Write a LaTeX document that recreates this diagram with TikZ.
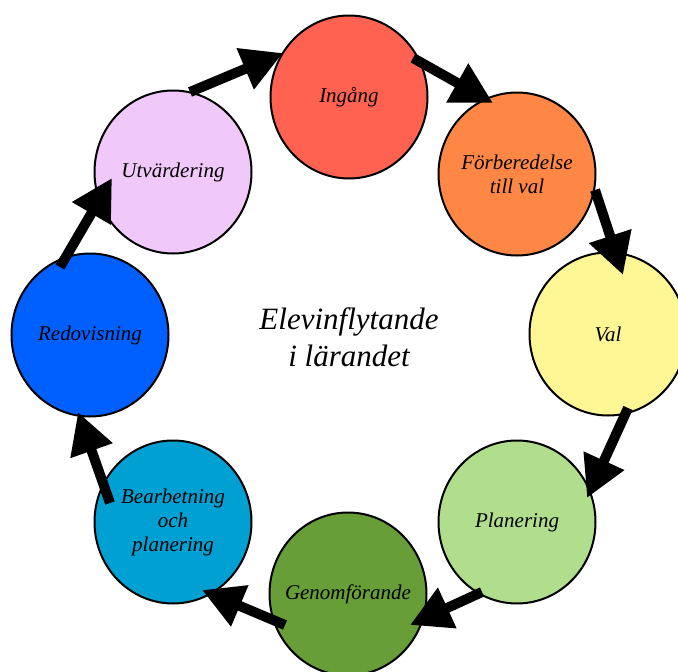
\documentclass[tikz,border=0pt]{standalone}
\usepackage{fontspec}
\setmainfont{Liberation Serif}
\usetikzlibrary{shapes.geometric,arrows.meta,calc}
\definecolor{cIng}{RGB}{255,98,80}
\definecolor{cForb}{RGB}{255,135,70}
\definecolor{cVal}{RGB}{255,247,150}
\definecolor{cPlan}{RGB}{176,222,140}
\definecolor{cGen}{RGB}{103,158,55}
\definecolor{cBear}{RGB}{0,160,210}
\definecolor{cRed}{RGB}{0,95,255}
\definecolor{cUtv}{RGB}{240,200,250}
\begin{document}
\begin{tikzpicture}[x=1pt,y=-1pt,
  stage/.style={ellipse, draw=black, line width=2pt, minimum width=157pt, minimum height=163pt,
    inner xsep=-30pt, inner ysep=0pt, align=center, font=\fontsize{21}{24}\selectfont\itshape},
  flow/.style={line width=10pt, -{Triangle[length=41pt,width=42pt]}},
  title/.style={align=center, font=\fontsize{31}{37}\selectfont\itshape}]
\useasboundingbox (0,0) rectangle (678,672);
\clip (0,0) rectangle (678,672);
\node[stage, fill=cIng]  (ing)  at (349,97)  {Ingång};
\node[stage, fill=cForb] (forb) at (517,174) {Förberedelse\\till val};
\node[stage, fill=cVal]  (val)  at (608,334) {Val};
\node[stage, fill=cPlan] (plan) at (517,522) {Planering};
\node[stage, fill=cGen]  (gen)  at (348,594) {Genomförande};
\node[stage, fill=cBear] (bear) at (173,522) {Bearbetning\\och\\planering};
\node[stage, fill=cRed]  (red)  at (90,335)  {Redovisning};
\node[stage, fill=cUtv]  (utv)  at (173,172) {Utvärdering};
\node[title] (center) at (349,337) {Elevinflytande\\i lärandet};
\draw[flow] ($(utv)+(17,-80)$)  -- ($(ing)+(-66,-44)$);
\draw[flow] ($(ing)+(64,-39)$)  -- ($(forb)+(-24,-71)$);
\draw[flow] ($(forb)+(78,16)$)  -- ($(val)+(15,-59)$);
\draw[flow] ($(val)+(20,74)$)   -- ($(plan)+(70,-24)$);
\draw[flow] ($(plan)+(-35,70)$) -- ($(gen)+(62,31)$);
\draw[flow] ($(gen)+(-63,31)$)  -- ($(bear)+(29,68)$);
\draw[flow] ($(bear)+(-63,-19)$) -- ($(red)+(-12,77)$);
\draw[flow] ($(red)+(-30,-68)$) -- ($(utv)+(-61,6)$);
\end{tikzpicture}
\end{document}
